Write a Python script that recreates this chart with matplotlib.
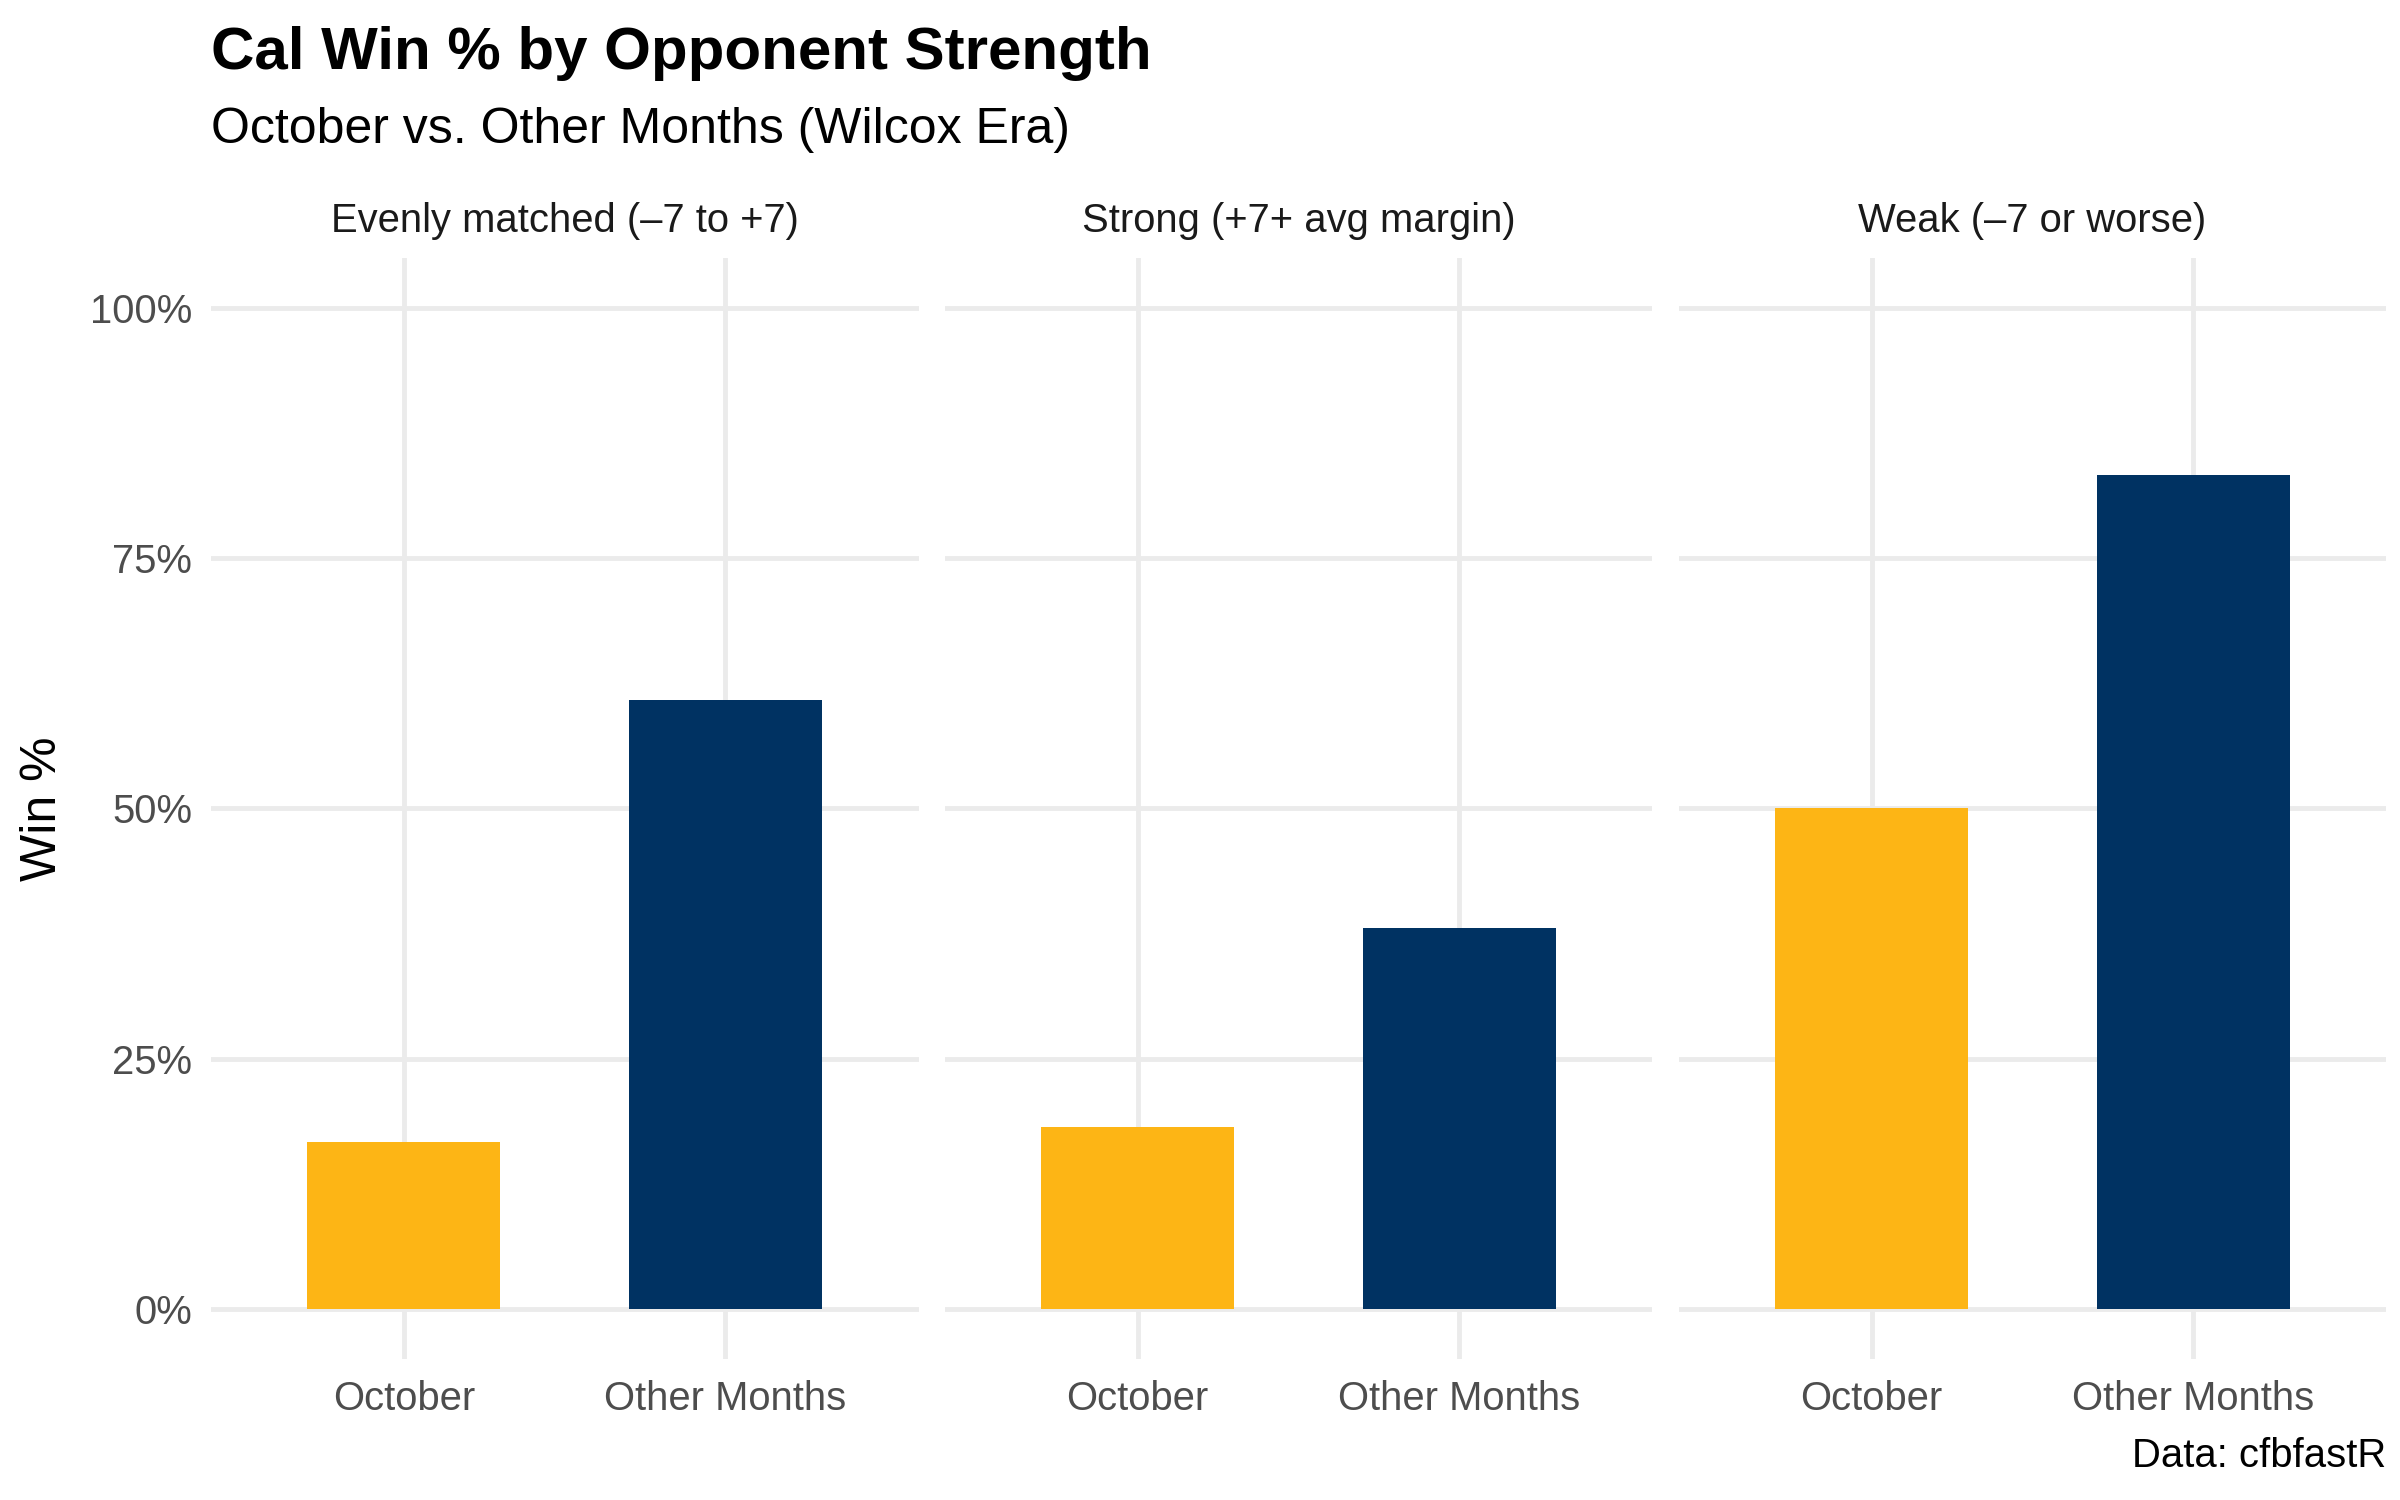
import matplotlib
matplotlib.use("Agg")
import matplotlib.pyplot as plt
from matplotlib.ticker import FixedLocator

plt.rcParams['font.family'] = ['Liberation Sans', 'DejaVu Sans']

panels = ["Evenly matched (–7 to +7)", "Strong (+7+ avg margin)", "Weak (–7 or worse)"]
months = ["October", "Other Months"]
october_pct = [0.167, 0.182, 0.500]
other_pct = [0.608, 0.381, 0.833]
bar_colors = ["#FDB515", "#003262"]
y_ticks = [0, 0.25, 0.5, 0.75, 1.0]
y_labels = ["0%", "25%", "50%", "75%", "100%"]

W, H = 2400, 1500
fig = plt.figure(figsize=(8, 5), dpi=300)

lefts = [210.8, 944.6, 1678.5]
pw = 707.7
top_px, bot_px = 257.7, 1359.2
grid_c = "#EBEBEB"
lw = 1.16

for i, name in enumerate(panels):
    ax = fig.add_axes([lefts[i] / W, 1 - bot_px / H, pw / W, (bot_px - top_px) / H])
    vals = [october_pct[i], other_pct[i]]
    ax.bar([1, 2], vals, width=0.6, color=bar_colors, zorder=2)
    ax.set_xlim(0.4, 2.6)
    ax.set_ylim(-0.05, 1.05)
    ax.set_xticks([1, 2])
    ax.set_xticklabels(months, fontsize=9.6, color="#4D4D4D")
    ax.yaxis.set_major_locator(FixedLocator(y_ticks))
    if i == 0:
        ax.set_yticklabels(y_labels, fontsize=9.6, color="#4D4D4D")
    else:
        ax.set_yticklabels([])
    ax.tick_params(length=0, pad=4.5)
    ax.tick_params(axis='x', pad=5.0)
    for s in ax.spines.values():
        s.set_visible(False)
    ax.grid(True, color=grid_c, linewidth=lw, zorder=0)
    ax.set_axisbelow(True)
    cx = (lefts[i] + pw / 2) / W
    fig.text(cx, 1 - 232 / H, name, ha='center', va='baseline', fontsize=9.6, color="#1A1A1A")

fig.text(211 / W, 1 - 69 / H, "Cal Win % by Opponent Strength", fontsize=14.4,
         fontweight='bold', ha='left', va='baseline')
fig.text(211 / W, 1 - 143 / H, "October vs. Other Months (Wilcox Era)", fontsize=12,
         ha='left', va='baseline')
fig.text(2386 / W, 1 - 1467 / H, "Data: cfbfastR", fontsize=9.6, ha='right', va='baseline')
fig.text(43 / W, 1 - ((top_px + bot_px) / 2) / H, "Win %", fontsize=12, rotation=90,
         ha='center', va='center')

fig.savefig("out.png", dpi=300, facecolor="white")
